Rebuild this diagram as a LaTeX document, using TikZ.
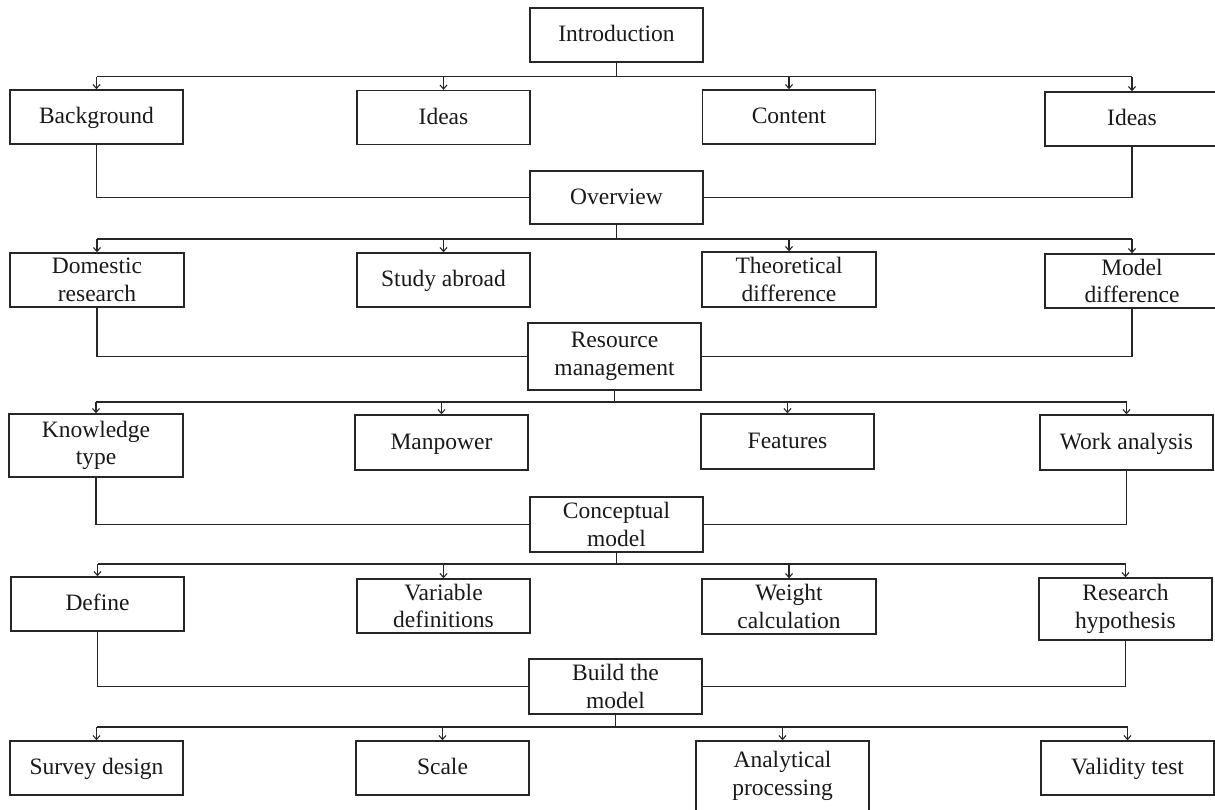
\documentclass[tikz,border=0pt]{standalone}
\usepackage{fontspec}
\setmainfont{Liberation Serif}
\usetikzlibrary{arrows.meta}
\definecolor{ln}{HTML}{262626}
\tikzset{
  box/.style={draw=ln, line width=1.4pt, minimum width=173pt, minimum height=54pt,
    align=center, inner sep=0pt, font=\fontsize{23.5}{27.5}\selectfont, text=black!90},
  single/.style={text height=17pt, text depth=4pt},
  conn/.style={draw=ln, line width=1.4pt},
  arr/.style={conn, -{Straight Barb[length=4pt,width=7pt,line width=1.1pt]}}
}
\begin{document}
\begin{tikzpicture}[x=1pt,y=-1pt]
\useasboundingbox (0,0) rectangle (1215,809);
\begin{scope}
\clip (0,0) rectangle (1215,809);
% level 0
\node[box,single] (intro) at (616.5,35) {Introduction};
% row 1
\node[box,single] (bg) at (96.5,117) {Background};
\node[box,single] (ida) at (443.5,117.5) {Ideas};
\node[box,single] (cont) at (789,117) {Content};
\node[box,single,minimum width=174pt] (idb) at (1132,119) {Ideas};
\node[box,single,minimum height=53pt] (ov) at (616.5,197.5) {Overview};
% row 2
\node[box,minimum width=174pt] (dom) at (97,280) {Domestic\\research};
\node[box,single] (stu) at (443.5,280) {Study abroad};
\node[box,minimum width=174pt,minimum height=55pt] (the) at (789,279.5) {Theoretical\\difference};
\node[box,minimum width=174pt] (mod) at (1132,281) {Model\\difference};
\node[box,minimum height=67pt] (res) at (614.5,356.5) {Resource\\management};
% row 3
\node[box,minimum width=174pt,minimum height=63pt] (kno) at (96,445.5) {Knowledge\\type};
\node[box,single,minimum height=55pt] (man) at (441.5,442.5) {Manpower};
\node[box,single,minimum height=55pt] (fea) at (787.5,441.5) {Features};
\node[box,single,minimum height=55pt] (wor) at (1126.5,442.5) {Work analysis};
\node[box,minimum height=55pt] (con) at (616.5,524.5) {Conceptual\\model};
% row 4
\node[box,single] (def) at (97.5,604) {Define};
\node[box] (var) at (443.5,606) {Variable\\definitions};
\node[box,minimum width=174pt,minimum height=55pt] (wei) at (789,606.5) {Weight\\calculation};
\node[box,minimum height=62pt] (rese) at (1125.5,609) {Research\\hypothesis};
\node[box,minimum height=55pt] (bui) at (615.5,686.5) {Build the\\model};
% row 5
\node[box,single] (sur) at (96.5,768) {Survey design};
\node[box,single] (sca) at (442.5,768) {Scale};
\node[box,minimum height=70pt] (ana) at (782.5,776) {Analytical\\processing};
\node[box,single] (val) at (1127.5,768) {Validity test};

% bus coordinates
\coordinate (b1) at (0,76.5);
\coordinate (b2) at (0,239);
\coordinate (b3) at (0,402);
\coordinate (b4) at (0,564);
\coordinate (b5) at (0,727);

% level 1
\draw[conn] (intro.south) -- (intro.south |- b1);
\draw[conn] (bg |- b1) -- (idb |- b1);
\foreach \n in {bg,ida,cont,idb} \draw[arr] (\n |- b1) -- (\n.north);
\draw[conn] (bg.south) |- (ov.west);
\draw[conn] (idb.south) |- (ov.east);
% level 2
\draw[conn] (ov.south) -- (ov.south |- b2);
\draw[conn] (dom |- b2) -- (mod |- b2);
\foreach \n in {dom,stu,the,mod} \draw[arr] (\n |- b2) -- (\n.north);
\draw[conn] (dom.south) |- (res.west);
\draw[conn] (mod.south) |- (res.east);
% level 3
\draw[conn] (res.south) -- (res.south |- b3);
\draw[conn] (kno |- b3) -- (wor |- b3);
\foreach \n in {kno,man,fea,wor} \draw[arr] (\n |- b3) -- (\n.north);
\draw[conn] (kno.south) |- (con.west);
\draw[conn] (wor.south) |- (con.east);
% level 4
\draw[conn] (con.south) -- (con.south |- b4);
\draw[conn] (def |- b4) -- (rese |- b4);
\foreach \n in {def,var,wei,rese} \draw[arr] (\n |- b4) -- (\n.north);
\draw[conn] (def.south) |- (bui.west);
\draw[conn] (rese.south) |- (bui.east);
% level 5
\draw[conn] (bui.south) -- (bui.south |- b5);
\draw[conn] (sur |- b5) -- (val |- b5);
\foreach \n in {sur,sca,ana,val} \draw[arr] (\n |- b5) -- (\n.north);
\end{scope}
\end{tikzpicture}
\end{document}
